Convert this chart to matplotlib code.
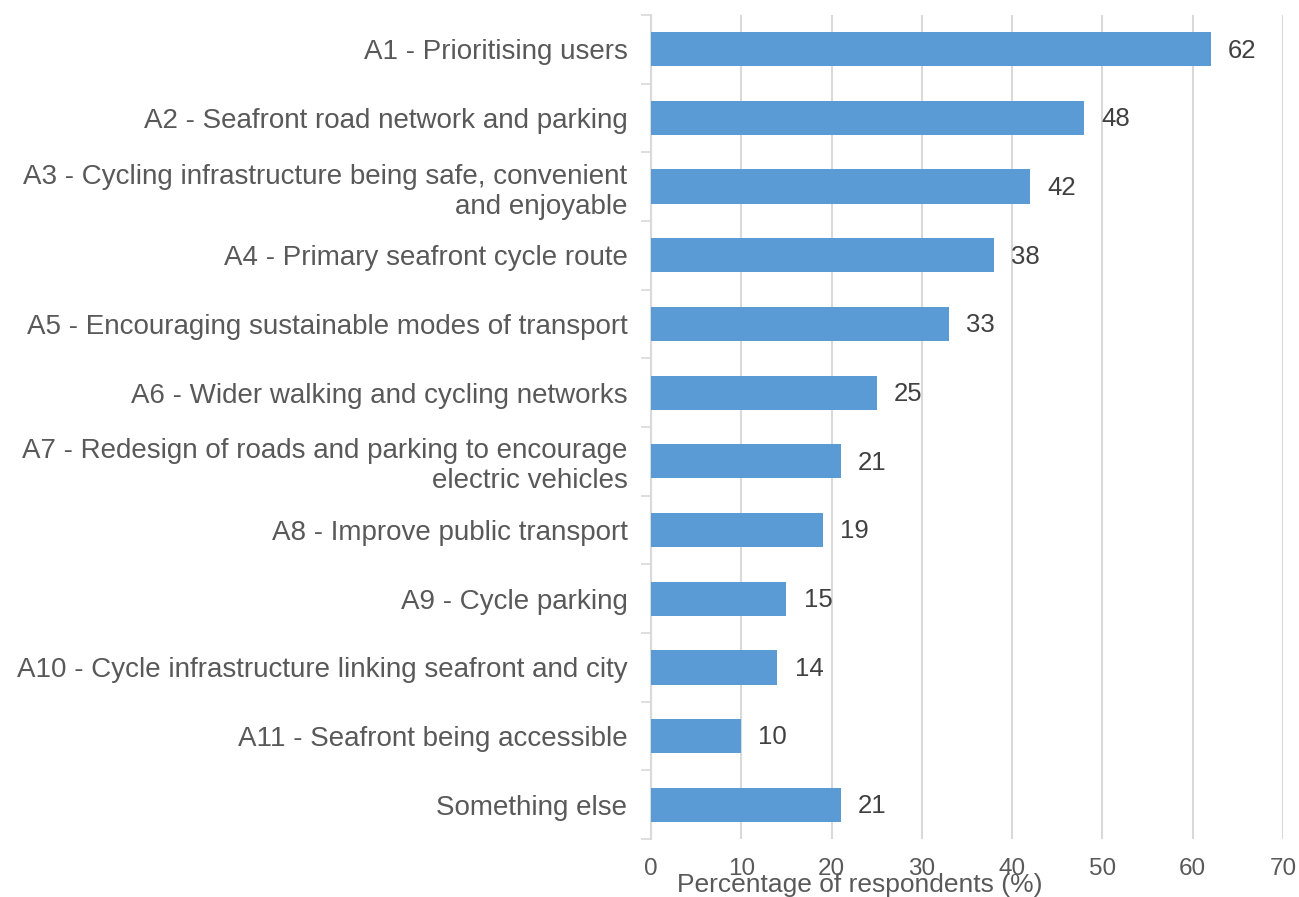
import numpy as np
import matplotlib.pyplot as plt

plt.rcParams['font.family'] = ['Liberation Sans', 'DejaVu Sans']

categories = [
    "A1 - Prioritising users",
    "A2 - Seafront road network and parking",
    "A3 - Cycling infrastructure being safe, convenient\nand enjoyable",
    "A4 - Primary seafront cycle route",
    "A5 - Encouraging sustainable modes of transport",
    "A6 - Wider walking and cycling networks",
    "A7 - Redesign of roads and parking to encourage\nelectric vehicles",
    "A8 - Improve public transport",
    "A9 - Cycle parking",
    "A10 - Cycle infrastructure linking seafront and city",
    "A11 - Seafront being accessible",
    "Something else",
]
values = [62, 48, 42, 38, 33, 25, 21, 19, 15, 14, 10, 21]
xticks = [0, 10, 20, 30, 40, 50, 60, 70]

W, H = 1299, 897
fig = plt.figure(figsize=(W / 100, H / 100), dpi=100)
ax = fig.add_axes([651 / W, 1 - 839 / H, (1283 - 651) / W, (839 - 15) / H])

y = np.arange(len(categories))
ax.barh(y, values, height=0.5, color="#5b9bd5", zorder=3)
for yi, v in zip(y, values):
    ax.text(v + 1.9, yi + 0.02, str(v), va="center", ha="left",
            fontsize=18.5, color="#404040")

ax.set_xlim(0, 70)
ax.set_ylim(len(categories) - 0.5, -0.5)
ax.set_xticks(xticks)
ax.set_xticklabels([str(t) for t in xticks], fontsize=17.5, color="#595959")
ax.tick_params(axis="x", length=0, pad=14)

# category labels sit between tick marks at the band boundaries
ax.set_yticks(y)
ax.set_yticklabels(categories, fontsize=20, color="#595959",
                   linespacing=1.2)
ax.tick_params(axis="y", which="major", length=0, pad=17)
ax.set_yticks(np.arange(-0.5, len(categories)), minor=True)
ax.tick_params(axis="y", which="minor", length=7, width=1.2, color="#d9d9d9")

ax.grid(axis="x", color="#d9d9d9", linewidth=1.5, zorder=0)
for s in ["top", "right", "bottom"]:
    ax.spines[s].set_visible(False)
ax.spines["left"].set_color("#d9d9d9")
ax.spines["left"].set_linewidth(1.5)

fig.text(860 / W, 1 - 885 / H, "Percentage of respondents (%)",
         ha="center", va="center", fontsize=19, color="#595959")

fig.savefig("out.png", dpi=100)
